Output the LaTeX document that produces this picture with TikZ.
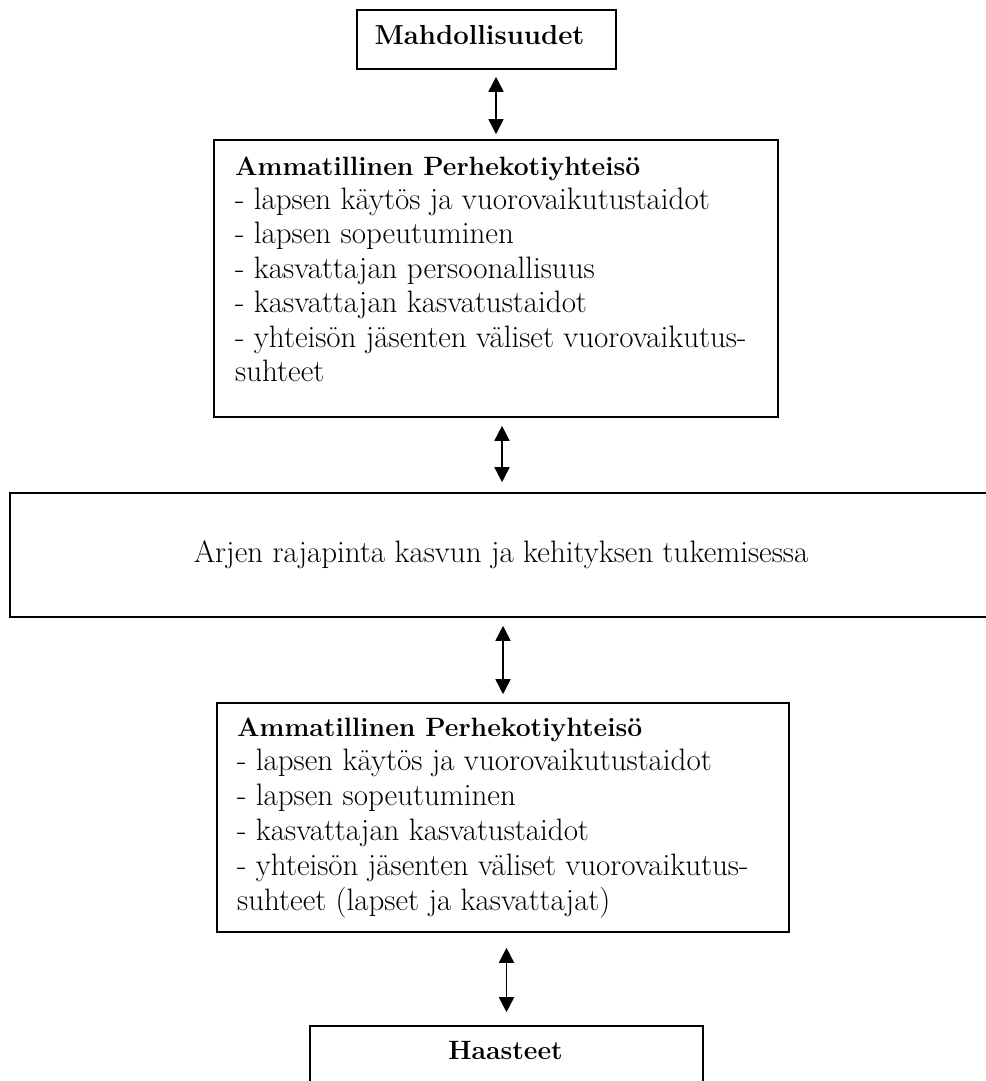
\documentclass[tikz,border=0pt]{standalone}
\usepackage{fontspec}
\usetikzlibrary{arrows.meta}
\tikzset{
  box/.style={draw, line width=1.6pt, inner sep=0pt},
  txt/.style={font=\fontsize{31}{34}\selectfont, inner sep=0pt, anchor=base west},
  hd/.style={font=\fontsize{26.5}{34}\selectfont\bfseries, inner sep=0pt},
  arr/.style={{Triangle[length=15pt,width=15pt]}-{Triangle[length=15pt,width=15pt]}, line width=1.6pt}
}
\begin{document}
\begin{tikzpicture}[x=1pt,y=-1pt]
\useasboundingbox (0,0) rectangle (985,1081);
% boxes
\node[box, minimum width=259pt, minimum height=59pt] (top) at (486.5,39.5) {};
\node[box, minimum width=564pt, minimum height=277pt] (b2) at (496,278.5) {};
\node[box, minimum width=990pt, minimum height=124pt] (wide) at (505,555) {};
\node[box, minimum width=572pt, minimum height=229pt] (b4) at (503,817.5) {};
\node[box, minimum width=393pt, minimum height=74pt] (haast) at (506.5,1063) {};
% texts
\node[hd, font=\fontsize{27.5}{34}\selectfont\bfseries, anchor=base] (ttop) at (479.5,45) {Mahdollisuudet};
\node[hd, anchor=base west] (h2) at (235,175) {Ammatillinen Perhekotiyhteisö};
\foreach \t [count=\i] in {- lapsen käytös ja vuorovaikutustaidot, - lapsen sopeutuminen, - kasvattajan persoonallisuus, - kasvattajan kasvatustaidot, - yhteisön jäsenten väliset vuorovaikutus-, suhteet}
  \node[txt] (l2\i) at (235,{175+\i*34.4}) {\t};
\node[txt, anchor=base] (twide) at (501,562) {Arjen rajapinta kasvun ja kehityksen tukemisessa};
\node[hd, anchor=base west] (h4) at (237,736) {Ammatillinen Perhekotiyhteisö};
\foreach \t [count=\i] in {- lapsen käytös ja vuorovaikutustaidot, - lapsen sopeutuminen, - kasvattajan kasvatustaidot, - yhteisön jäsenten väliset vuorovaikutus-, suhteet (lapset ja kasvattajat)}
  \node[txt] (l4\i) at (237,{736+\i*34.8}) {\t};
\node[hd, anchor=base] (thaast) at (505.5,1059) {Haasteet};
% connectors
\draw[arr, shorten <=7pt, shorten >=5pt] (b2.north |- top.south) -- (b2.north);
\draw[arr, shorten <=8pt, shorten >=10pt] ([xshift=6pt]b2.south) -- ([xshift=6pt]b2.south |- wide.north);
\draw[arr, shorten <=8pt, shorten >=8pt] (b4.north |- wide.south) -- (b4.north);
\draw[arr, shorten <=15pt, shorten >=13pt] (haast.north |- b4.south) -- (haast.north);
\end{tikzpicture}
\end{document}
